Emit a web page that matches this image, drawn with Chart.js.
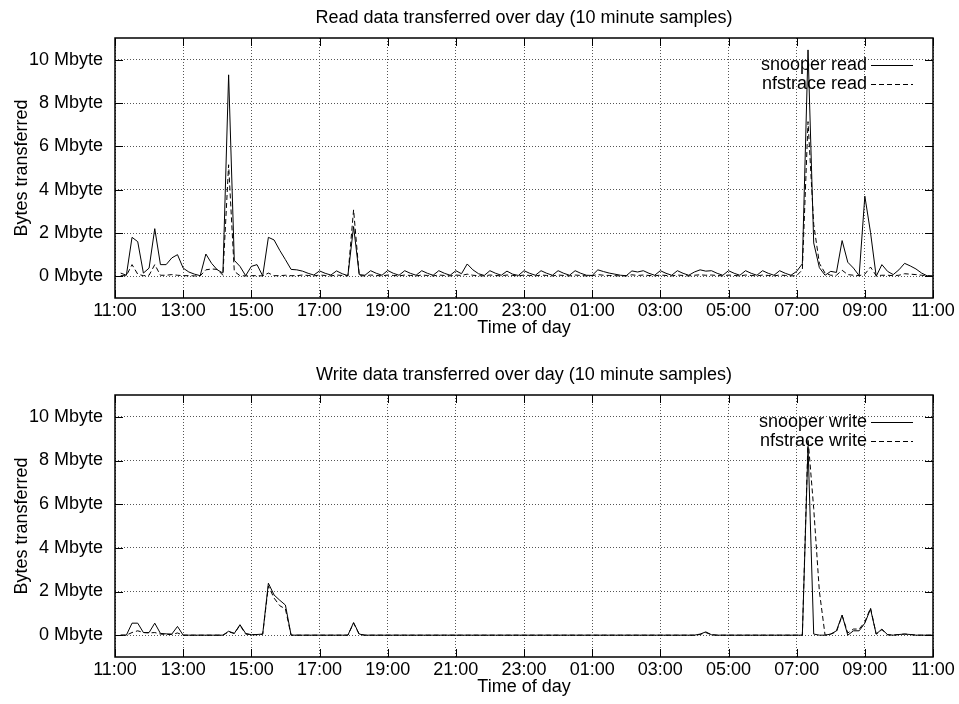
<!DOCTYPE html>
<html>
<head>
<meta charset="utf-8">
<script src="https://cdn.jsdelivr.net/npm/chart.js@4.4.0/dist/chart.umd.min.js"></script>
<style>
  html, body { margin: 0; padding: 0; background: #fff; }
  #wrap { position: relative; width: 959px; height: 704px; }
  canvas { position: absolute; left: 0; }
  #readChart  { top: 0; }
  #writeChart { top: 357px; }
</style>
</head>
<body>
<div id="wrap">
  <canvas id="readChart"  width="959" height="345"></canvas>
  <canvas id="writeChart" width="959" height="347"></canvas>
</div>
<script>
// Mbyte per 10 minute sample, first sample 11:10, last one 11:00 next day
const snooperRead = [
    0.15, 0.05, 1.80, 1.60, 0.15, 0.38, 2.20, 0.54, 0.54, 0.85, 1.00, 0.38,
    0.20, 0.10, 0.03, 1.03, 0.60, 0.30, 0.15, 9.30, 0.74, 0.46, 0.03, 0.46,
    0.54, 0.02, 1.80, 1.68, 1.20, 0.77, 0.32, 0.30, 0.24, 0.14, 0.06, 0.25,
    0.14, 0.06, 0.25, 0.12, 0.03, 2.30, 0.08, 0.05, 0.26, 0.14, 0.05, 0.27,
    0.14, 0.05, 0.26, 0.14, 0.05, 0.26, 0.14, 0.05, 0.26, 0.14, 0.05, 0.26,
    0.12, 0.57, 0.30, 0.12, 0.04, 0.26, 0.14, 0.05, 0.24, 0.10, 0.04, 0.26,
    0.14, 0.05, 0.26, 0.14, 0.05, 0.26, 0.14, 0.05, 0.26, 0.14, 0.05, 0.04,
    0.30, 0.22, 0.15, 0.10, 0.05, 0.03, 0.25, 0.20, 0.26, 0.14, 0.05, 0.26,
    0.14, 0.05, 0.26, 0.14, 0.05, 0.20, 0.30, 0.24, 0.26, 0.14, 0.05, 0.26,
    0.14, 0.05, 0.26, 0.14, 0.05, 0.26, 0.14, 0.05, 0.26, 0.14, 0.05, 0.23,
    0.58, 10.45, 1.54, 0.40, 0.05, 0.23, 0.18, 1.65, 0.65, 0.38, 0.03, 3.70,
    2.03, 0.00, 0.54, 0.23, 0.08, 0.30, 0.60, 0.48, 0.34, 0.15, 0.02, 0.00
];
const nfstraceRead = [
    0.03, 0.03, 0.54, 0.10, 0.03, 0.05, 0.54, 0.05, 0.05, 0.08, 0.05, 0.03,
    0.03, 0.02, 0.02, 0.30, 0.34, 0.32, 0.05, 5.15, 0.23, 0.03, 0.02, 0.03,
    0.03, 0.02, 0.15, 0.03, 0.03, 0.05, 0.03, 0.03, 0.06, 0.04, 0.02, 0.06,
    0.04, 0.02, 0.06, 0.04, 0.02, 3.07, 0.03, 0.02, 0.06, 0.04, 0.02, 0.06,
    0.04, 0.02, 0.06, 0.04, 0.02, 0.06, 0.04, 0.02, 0.06, 0.04, 0.02, 0.06,
    0.04, 0.10, 0.05, 0.03, 0.02, 0.06, 0.04, 0.02, 0.06, 0.04, 0.02, 0.06,
    0.04, 0.02, 0.06, 0.04, 0.02, 0.06, 0.04, 0.02, 0.06, 0.04, 0.02, 0.03,
    0.08, 0.05, 0.04, 0.03, 0.02, 0.02, 0.07, 0.04, 0.06, 0.04, 0.02, 0.06,
    0.04, 0.02, 0.06, 0.04, 0.02, 0.05, 0.07, 0.05, 0.06, 0.04, 0.02, 0.06,
    0.04, 0.02, 0.06, 0.04, 0.02, 0.06, 0.04, 0.02, 0.06, 0.04, 0.02, 0.03,
    0.30, 7.14, 2.40, 0.60, 0.15, 0.05, 0.05, 0.28, 0.08, 0.05, 0.03, 0.10,
    0.43, 0.03, 0.05, 0.05, 0.03, 0.05, 0.12, 0.10, 0.08, 0.05, 0.03, 0.02
];
const snooperWrite = [
    0.00, 0.00, 0.55, 0.55, 0.12, 0.12, 0.55, 0.08, 0.06, 0.05, 0.40, 0.00,
    0.00, 0.00, 0.00, 0.00, 0.00, 0.00, 0.00, 0.18, 0.08, 0.48, 0.08, 0.02,
    0.03, 0.05, 2.38, 1.84, 1.60, 1.38, 0.00, 0.00, 0.00, 0.00, 0.00, 0.00,
    0.00, 0.00, 0.00, 0.00, 0.00, 0.58, 0.05, 0.00, 0.00, 0.00, 0.00, 0.00,
    0.00, 0.00, 0.00, 0.00, 0.00, 0.00, 0.00, 0.00, 0.00, 0.00, 0.00, 0.00,
    0.00, 0.00, 0.00, 0.00, 0.00, 0.00, 0.00, 0.00, 0.00, 0.00, 0.00, 0.00,
    0.00, 0.00, 0.00, 0.00, 0.00, 0.00, 0.00, 0.00, 0.00, 0.00, 0.00, 0.00,
    0.00, 0.00, 0.00, 0.00, 0.00, 0.00, 0.00, 0.00, 0.00, 0.00, 0.00, 0.00,
    0.00, 0.00, 0.00, 0.00, 0.00, 0.00, 0.05, 0.15, 0.02, 0.00, 0.00, 0.00,
    0.00, 0.00, 0.00, 0.00, 0.00, 0.00, 0.00, 0.00, 0.00, 0.00, 0.00, 0.00,
    0.00, 8.65, 0.05, 0.00, 0.00, 0.05, 0.20, 0.92, 0.00, 0.20, 0.20, 0.55,
    1.20, 0.05, 0.28, 0.02, 0.00, 0.03, 0.05, 0.03, 0.00, 0.00, 0.00, 0.00
];
const nfstraceWrite = [
    0.00, 0.00, 0.12, 0.20, 0.12, 0.10, 0.12, 0.05, 0.03, 0.03, 0.10, 0.00,
    0.00, 0.00, 0.00, 0.00, 0.00, 0.00, 0.00, 0.15, 0.08, 0.45, 0.05, 0.02,
    0.02, 0.04, 2.25, 1.70, 1.35, 1.20, 0.00, 0.00, 0.00, 0.00, 0.00, 0.00,
    0.00, 0.00, 0.00, 0.00, 0.00, 0.55, 0.03, 0.00, 0.00, 0.00, 0.00, 0.00,
    0.00, 0.00, 0.00, 0.00, 0.00, 0.00, 0.00, 0.00, 0.00, 0.00, 0.00, 0.00,
    0.00, 0.00, 0.00, 0.00, 0.00, 0.00, 0.00, 0.00, 0.00, 0.00, 0.00, 0.00,
    0.00, 0.00, 0.00, 0.00, 0.00, 0.00, 0.00, 0.00, 0.00, 0.00, 0.00, 0.00,
    0.00, 0.00, 0.00, 0.00, 0.00, 0.00, 0.00, 0.00, 0.00, 0.00, 0.00, 0.00,
    0.00, 0.00, 0.00, 0.00, 0.00, 0.00, 0.03, 0.12, 0.02, 0.00, 0.00, 0.00,
    0.00, 0.00, 0.00, 0.00, 0.00, 0.00, 0.00, 0.00, 0.00, 0.00, 0.00, 0.00,
    0.00, 9.00, 5.80, 2.00, 0.00, 0.05, 0.15, 0.90, 0.10, 0.28, 0.28, 0.60,
    1.25, 0.05, 0.25, 0.02, 0.00, 0.03, 0.05, 0.03, 0.00, 0.00, 0.00, 0.00
];

const yTicks      = [0, 2, 4, 6, 8, 10];
const xTickLabels = ['11:00', '13:00', '15:00', '17:00', '19:00', '21:00', '23:00',
                     '01:00', '03:00', '05:00', '07:00', '09:00', '11:00'];

const SAMPLE_MIN = 10;    // minutes between samples
const TICK_MIN   = 120;   // minutes between x tics
const TIC_LEN    = 8;

const FONT = {family: "'Liberation Sans', Arial, sans-serif", size: 18, weight: 'normal', lineHeight: 1.2};

const toPoints = values => values.map((v, i) => ({x: (i + 1) * SAMPLE_MIN, y: v}));

// gnuplot look: border, inward tics on all four sides, key in the top right corner
const gnuplotFrame = {
    id: 'gnuplotFrame',
    afterLayout(chart) {
        // gnuplot centres the title over the plot, not over the canvas
        const t = chart.titleBlock;
        if (t) {
            t.left  = chart.chartArea.left;
            t.right = chart.chartArea.right;
            t.width = t.right - t.left;
        }
    },
    afterDatasetsDraw(chart) {
        const {ctx, chartArea: a, scales: {x, y}} = chart;
        ctx.save();
        ctx.strokeStyle = '#000';
        ctx.lineWidth   = 1;
        ctx.setLineDash([]);
        ctx.beginPath();
        x.ticks.forEach(t => {
            const px = Math.round(x.getPixelForValue(t.value)) + 0.5;
            ctx.moveTo(px, a.bottom); ctx.lineTo(px, a.bottom - TIC_LEN);
            ctx.moveTo(px, a.top);    ctx.lineTo(px, a.top + TIC_LEN);
        });
        y.ticks.forEach(t => {
            const py = Math.round(y.getPixelForValue(t.value)) + 0.5;
            ctx.moveTo(a.left, py);  ctx.lineTo(a.left + TIC_LEN, py);
            ctx.moveTo(a.right, py); ctx.lineTo(a.right - TIC_LEN, py);
        });
        ctx.stroke();

        ctx.lineWidth = 1.5;
        ctx.strokeRect(a.left, a.top, a.right - a.left, a.bottom - a.top);

        // key
        ctx.font         = `${FONT.size}px ${FONT.family}`;
        ctx.fillStyle    = '#000';
        ctx.textAlign    = 'right';
        ctx.textBaseline = 'middle';
        ctx.lineWidth    = 1;
        chart.data.datasets.forEach((ds, i) => {
            const ky = Math.round(a.top + 27 + i * 19) + 0.5;
            ctx.fillText(ds.label, a.right - 66, ky);
            ctx.setLineDash(ds.borderDash || []);
            ctx.beginPath();
            ctx.moveTo(a.right - 62, ky);
            ctx.lineTo(a.right - 20, ky);
            ctx.stroke();
        });
        ctx.restore();
    }
};

function buildChart(canvasId, titleText, solidLabel, solid, dashedLabel, dashed) {
    const grid   = {color: '#555', lineWidth: 1, drawTicks: false};
    const border = {display: false, dash: [1, 2]};

    return new Chart(document.getElementById(canvasId), {
        type: 'line',
        data: {
            datasets: [
                {label: solidLabel,  data: toPoints(solid),  borderColor: '#000', borderWidth: 1,
                 pointRadius: 0, fill: false},
                {label: dashedLabel, data: toPoints(dashed), borderColor: '#000', borderWidth: 1,
                 borderDash: [5, 3], pointRadius: 0, fill: false}
            ]
        },
        options: {
            responsive: false,
            animation : false,
            events    : [],
            layout    : {padding: {left: 0, right: 26, top: 0, bottom: 0}},
            plugins   : {
                legend : {display: false},
                tooltip: {enabled: false},
                title  : {display: true, text: titleText, color: '#000', font: FONT,
                          padding: {top: 7.2, bottom: 9.2}}
            },
            scales: {
                x: {
                    type: 'linear', min: 0, max: 24 * 60,
                    afterBuildTicks: s => { s.ticks = xTickLabels.map((_, i) => ({value: i * TICK_MIN})); },
                    afterFit: s => { s.height = 47; s.paddingLeft = 0; s.paddingRight = 0; },
                    ticks : {callback: (v, i) => xTickLabels[i], autoSkip: false, maxRotation: 0,
                             minRotation: 0, padding: 2, color: '#000', font: FONT},
                    grid, border,
                    title : {display: true, text: 'Time of day', color: '#000', font: FONT,
                             padding: {top: 0, bottom: 6}}
                },
                y: {
                    min: -1, max: 11,
                    afterBuildTicks: s => { s.ticks = yTicks.map(v => ({value: v})); },
                    afterFit: s => { s.width = 115; s.paddingTop = 0; s.paddingBottom = 0; },
                    ticks : {callback: v => `${v} Mbyte`, padding: 12, color: '#000', font: FONT},
                    grid, border,
                    title : {display: true, text: 'Bytes transferred', color: '#000', font: FONT,
                             padding: {top: 11, bottom: 0}}
                }
            }
        },
        plugins: [gnuplotFrame]
    });
}

buildChart('readChart',  'Read data transferred over day (10 minute samples)',
           'snooper read',  snooperRead,  'nfstrace read',  nfstraceRead);
buildChart('writeChart', 'Write data transferred over day (10 minute samples)',
           'snooper write', snooperWrite, 'nfstrace write', nfstraceWrite);
</script>
</body>
</html>
